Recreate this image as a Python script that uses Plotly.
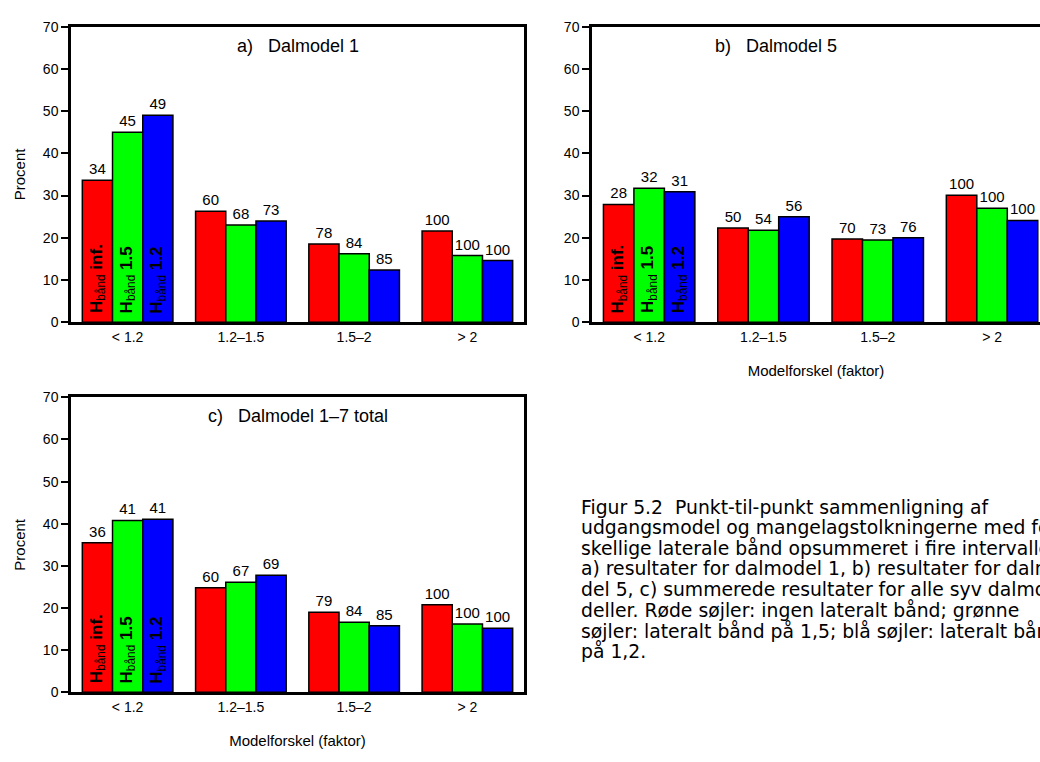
import plotly.graph_objects as go

categories = ["< 1.2", "1.2–1.5", "1.5–2", "> 2"]
series_names = ["inf.", "1.5", "1.2"]
colors = ["#FF0000", "#00FF00", "#0000FF"]

# Panel a) Dalmodel 1 : interval percentages and cumulative labels
a_red = [33.6, 26.3, 18.5, 21.6]
a_green = [45.0, 23.0, 16.2, 15.8]
a_blue = [49.0, 24.0, 12.4, 14.6]
a_red_lbl = ["34", "60", "78", "100"]
a_green_lbl = ["45", "68", "84", "100"]
a_blue_lbl = ["49", "73", "85", "100"]

# Panel b) Dalmodel 5
b_red = [27.9, 22.3, 19.7, 30.1]
b_green = [31.7, 21.8, 19.5, 27.0]
b_blue = [30.9, 25.0, 20.0, 24.1]
b_red_lbl = ["28", "50", "70", "100"]
b_green_lbl = ["32", "54", "73", "100"]
b_blue_lbl = ["31", "56", "76", "100"]

# Panel c) Dalmodel 1-7 total
c_red = [35.5, 24.8, 19.0, 20.8]
c_green = [40.8, 26.1, 16.6, 16.2]
c_blue = [41.1, 27.8, 15.8, 15.2]
c_red_lbl = ["36", "60", "79", "100"]
c_green_lbl = ["41", "67", "84", "100"]
c_blue_lbl = ["41", "69", "85", "100"]

panel_titles = ["a)\u00a0\u00a0\u00a0Dalmodel 1", "b)\u00a0\u00a0\u00a0Dalmodel 5",
                "c)\u00a0\u00a0\u00a0Dalmodel 1–7 total"]

caption_lines = [
    "Figur 5.2\u00a0\u00a0Punkt-til-punkt sammenligning af",
    "udgangsmodel og mangelagstolkningerne med for-",
    "skellige laterale bånd opsummeret i fire intervaller:",
    "a) resultater for dalmodel 1, b) resultater for dalmo-",
    "del 5, c) summerede resultater for alle syv dalmo-",
    "deller. Røde søjler: ingen lateralt bånd; grønne",
    "søjler: lateralt bånd på 1,5; blå søjler: lateralt bånd",
    "på 1,2.",
]

W, H = 1040, 762
FONT = "Liberation Sans, Arial, sans-serif"

panels = [
    ("x", "y", [a_red, a_green, a_blue], [a_red_lbl, a_green_lbl, a_blue_lbl]),
    ("x2", "y2", [b_red, b_green, b_blue], [b_red_lbl, b_green_lbl, b_blue_lbl]),
    ("x3", "y3", [c_red, c_green, c_blue], [c_red_lbl, c_green_lbl, c_blue_lbl]),
]

fig = go.Figure()
for xa, ya, vals, lbls in panels:
    for i in range(3):
        fig.add_trace(go.Bar(
            x=categories, y=vals[i], xaxis=xa, yaxis=ya,
            name="H bånd " + series_names[i],
            marker=dict(color=colors[i], line=dict(color="black", width=1.5)),
            text=lbls[i], textposition="outside", cliponaxis=False,
            textfont=dict(family=FONT, size=15, color="black"),
            showlegend=False, hoverinfo="skip",
        ))

def px_x(p):
    return p / W

def px_y(p):
    return 1 - p / H

axis_common = dict(showline=True, linecolor="black", linewidth=2.5,
                   showgrid=False, zeroline=False,
                   tickfont=dict(family=FONT, size=14, color="black"))
yaxis_common = dict(axis_common, range=[0, 70], dtick=10, ticks="outside",
                    ticklen=7, tickwidth=1.5, tickcolor="black")

title_font = dict(family=FONT, size=15, color="black")

layout = dict(
    width=W, height=H, margin=dict(l=0, r=0, t=0, b=0),
    paper_bgcolor="white", plot_bgcolor="white",
    barmode="group", bargap=0.2, bargroupgap=0,
    font=dict(family=FONT, color="black"),
    uniformtext=dict(minsize=14, mode="show"),
    xaxis=dict(axis_common, domain=[px_x(71), px_x(524)], anchor="y",
               range=[-0.5, 3.5], mirror=True, ticks="", type="category"),
    yaxis=dict(yaxis_common, domain=[px_y(321), px_y(19)], anchor="x", mirror=True,
               title=dict(text="Procent", font=title_font, standoff=14)),
    xaxis2=dict(axis_common, domain=[px_x(592), 1.0], anchor="y2",
                range=[-0.5, -0.5 + (W - 592) / 114.3], mirror=True, ticks="",
                type="category",
                title=dict(text="Modelforskel (faktor)", font=title_font, standoff=22)),
    yaxis2=dict(yaxis_common, domain=[px_y(321), px_y(19)], anchor="x2", mirror=False),
    xaxis3=dict(axis_common, domain=[px_x(71), px_x(524)], anchor="y3",
                range=[-0.5, 3.5], mirror=True, ticks="", type="category",
                title=dict(text="Modelforskel (faktor)", font=title_font, standoff=22)),
    yaxis3=dict(yaxis_common, domain=[px_y(699), px_y(397.7)], anchor="x3", mirror=True,
                title=dict(text="Procent", font=title_font, standoff=14)),
)
fig.update_layout(**layout)

annotations = []
# panel titles
title_x = {"x": 0.5, "x2": 0.41, "x3": 0.5}
for (xa, ya, _, _), t in zip(panels, panel_titles):
    annotations.append(dict(text=t, xref=xa + " domain", x=title_x[xa],
                            yref=ya, y=65.5, showarrow=False,
                            font=dict(family=FONT, size=18, color="black")))

# rotated series labels inside the first group of bars
for xa, ya, _, _ in panels:
    for i, nm in enumerate(series_names):
        annotations.append(dict(
            text="<b>H</b><sub>bånd</sub><b> " + nm + "</b>",
            xref=xa, x=categories[0], xshift=(i - 1) * 30.3,
            yref=ya, y=0, yshift=7, yanchor="bottom", xanchor="center",
            textangle=-90, showarrow=False,
            font=dict(family=FONT, size=17, color="black")))

# caption, one line per annotation (tight line spacing as in the reference)
for k, line in enumerate(caption_lines):
    annotations.append(dict(text=line, xref="paper", yref="paper",
                            x=px_x(579), y=px_y(510 + 21 * k),
                            xanchor="left", yanchor="middle",
                            align="left", showarrow=False,
                            font=dict(family="DejaVu Sans, sans-serif", size=18.8,
                                      color="black")))
fig.update_layout(annotations=annotations)

fig.write_html("out.html")
